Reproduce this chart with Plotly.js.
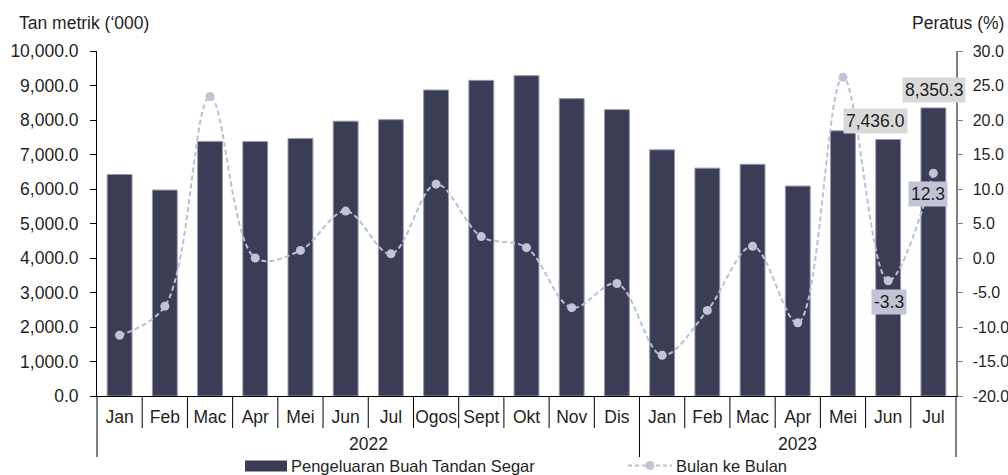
<!DOCTYPE html>
<html>
<head>
<meta charset="utf-8">
<script src="https://cdn.plot.ly/plotly-3.0.1.min.js"></script>
<style>
  html, body { margin: 0; padding: 0; background: #ffffff; }
  #chart { width: 1008px; height: 475px; }
</style>
</head>
<body>
<div id="chart"></div>
<script>
// ---- data ----
const months = ['Jan','Feb','Mac','Apr','Mei','Jun','Jul','Ogos','Sept','Okt','Nov','Dis',
                'Jan','Feb','Mac','Apr','Mei','Jun','Jul'];
const years = ['2022','2022','2022','2022','2022','2022','2022','2022','2022','2022','2022','2022',
               '2023','2023','2023','2023','2023','2023','2023'];
const production = [6420, 5970, 7380, 7375, 7465, 7965, 8010, 8870, 9150, 9285, 8620, 8300,
                    7135, 6605, 6715, 6085, 7685, 7436.0, 8350.3];
const monthOnMonth = [-11.2, -7.0, 23.4, 0.0, 1.1, 6.8, 0.6, 10.7, 3.1, 1.5, -7.2, -3.7,
                      -14.1, -7.6, 1.7, -9.4, 26.2, -3.3, 12.3];
const rightTicks = [-20, -15, -10, -5, 0, 5, 10, 15, 20, 25, 30];
const labelledIdx = [17, 18];
const barName = 'Pengeluaran Buah Tandan Segar';
const lineName = 'Bulan ke Bulan';
const leftTitle = 'Tan metrik (\u2018000)';
const rightTitle = 'Peratus (%)';

// ---- styling ----
const FONT = 'Liberation Sans, Arial, Helvetica, sans-serif';
const FS = 17.5;
const LFS = 16.5;
const TXT = '#1f1f1f';
const BAR = '#3a3d55';
const BAR_EDGE = '#9698ac';
const LINE = '#bdbed3';
const W = 1008, H = 475;
const M = {l: 97, r: 52, t: 51, b: 79};
const PW = W - M.l - M.r, PH = H - M.t - M.b;
const px2x = px => (px - M.l) / PW;
const py2y = py => (H - M.b - py) / PH;

const idx = months.map((_, i) => i);
const n = months.length;

const traces = [
  {
    type: 'bar', x: idx, y: production, name: barName, yaxis: 'y',
    marker: {color: BAR, line: {color: BAR_EDGE, width: 1}},
    hoverinfo: 'skip'
  },
  {
    type: 'scatter', mode: 'lines+markers', x: idx, y: monthOnMonth, name: lineName, yaxis: 'y2',
    line: {color: LINE, width: 2, dash: '5px,3px', shape: 'spline', smoothing: 1},
    marker: {color: '#c2c3d6', size: 9},
    hoverinfo: 'skip'
  }
];

// separators (category boundaries) and year groups
const shapes = [];
const annotations = [];
const groupStarts = [];
for (let k = 0; k <= n; k++) {
  const isGroup = (k === 0 || k === n || years[k] !== years[k - 1]);
  if (isGroup && k < n) groupStarts.push(k);
  shapes.push({
    type: 'line', xref: 'paper', yref: 'paper',
    x0: k / n, x1: k / n, y0: 0, y1: isGroup ? -61 / PH : -32 / PH,
    line: {color: '#000', width: 1}
  });
}
groupStarts.forEach((s, gi) => {
  const e = gi + 1 < groupStarts.length ? groupStarts[gi + 1] : n;
  annotations.push({
    xref: 'paper', yref: 'paper', x: ((s + e) / 2) / n, y: -48 / PH,
    text: years[s], showarrow: false, xanchor: 'center', yanchor: 'middle',
    font: {family: FONT, size: FS, color: TXT}
  });
});

// value labels
const fmt = v => v.toLocaleString('en-US', {minimumFractionDigits: 1, maximumFractionDigits: 1});
const barShifts = {17: -13, 18: 1};
const lineShifts = {17: 1, 18: -5};
labelledIdx.forEach(i => {
  annotations.push({
    x: i, y: production[i], xref: 'x', yref: 'y', text: fmt(production[i]),
    showarrow: false, xanchor: 'center', yanchor: 'bottom', xshift: barShifts[i], yshift: 5,
    bgcolor: '#d9d9d9', borderpad: 2,
    font: {family: FONT, size: FS, color: TXT}
  });
  annotations.push({
    x: i, y: monthOnMonth[i], xref: 'x', yref: 'y2', text: fmt(monthOnMonth[i]),
    showarrow: false, xanchor: 'center', yanchor: 'top', xshift: lineShifts[i], yshift: -8,
    bgcolor: '#c2c3d5', borderpad: 2,
    font: {family: FONT, size: FS, color: TXT}
  });
});

// axis titles
annotations.push({
  xref: 'paper', yref: 'paper', x: px2x(17), y: py2y(23), xanchor: 'left', yanchor: 'middle',
  text: leftTitle, showarrow: false, font: {family: FONT, size: FS, color: TXT}
});
annotations.push({
  xref: 'paper', yref: 'paper', x: px2x(1006), y: py2y(23), xanchor: 'right', yanchor: 'middle',
  text: rightTitle, showarrow: false, font: {family: FONT, size: FS, color: TXT}
});

// custom legend
const legY = 465.5;
shapes.push({
  type: 'rect', xref: 'paper', yref: 'paper',
  x0: px2x(245), x1: px2x(287), y0: py2y(460.5), y1: py2y(471.5),
  fillcolor: BAR, line: {width: 0}
});
annotations.push({
  xref: 'paper', yref: 'paper', x: px2x(289), y: py2y(legY), xanchor: 'left', yanchor: 'middle',
  text: barName, showarrow: false, font: {family: FONT, size: LFS, color: TXT}
});
shapes.push({
  type: 'line', xref: 'paper', yref: 'paper',
  x0: px2x(628), x1: px2x(672), y0: py2y(legY), y1: py2y(legY),
  line: {color: LINE, width: 2, dash: '4px,3px'}
});
shapes.push({
  type: 'circle', xref: 'paper', yref: 'paper',
  x0: px2x(645.5), x1: px2x(654.5), y0: py2y(legY - 4.5), y1: py2y(legY + 4.5),
  fillcolor: '#c2c3d6', line: {width: 0}
});
annotations.push({
  xref: 'paper', yref: 'paper', x: px2x(674), y: py2y(legY), xanchor: 'left', yanchor: 'middle',
  text: lineName, showarrow: false, font: {family: FONT, size: LFS, color: TXT}
});

const layout = {
  width: W, height: H,
  margin: M,
  paper_bgcolor: '#ffffff', plot_bgcolor: '#ffffff',
  font: {family: FONT, size: FS, color: TXT},
  showlegend: false,
  bargap: 0.45,
  xaxis: {
    range: [-0.5, n - 0.5], tickmode: 'array', tickvals: idx, ticktext: months,
    ticks: '', showline: true, linecolor: '#000', linewidth: 1,
    showgrid: false, zeroline: false, ticklabelstandoff: 5,
    tickfont: {family: FONT, size: FS, color: TXT}, fixedrange: true
  },
  yaxis: {
    range: [0, 10000], dtick: 1000, tick0: 0, tickformat: ',.1f',
    ticks: 'outside', ticklen: 6, tickcolor: '#000', tickwidth: 1,
    showline: true, linecolor: '#000', linewidth: 1,
    showgrid: false, zeroline: false, ticklabelstandoff: 8,
    tickfont: {family: FONT, size: FS, color: TXT}, fixedrange: true
  },
  yaxis2: {
    overlaying: 'y', side: 'right', anchor: 'x',
    range: [-20, 30], tickmode: 'array', tickvals: rightTicks,
    ticktext: rightTicks.map(v => v.toFixed(1)),
    ticks: 'outside', ticklen: 5, tickcolor: '#7f7f7f', tickwidth: 1,
    showline: true, linecolor: '#7f7f7f', linewidth: 1.5,
    showgrid: false, zeroline: false, ticklabelstandoff: 7,
    tickfont: {family: FONT, size: 16, color: TXT}, fixedrange: true
  },
  shapes: shapes,
  annotations: annotations
};

Plotly.newPlot('chart', traces, layout, {displayModeBar: false, staticPlot: true});
</script>
</body>
</html>
